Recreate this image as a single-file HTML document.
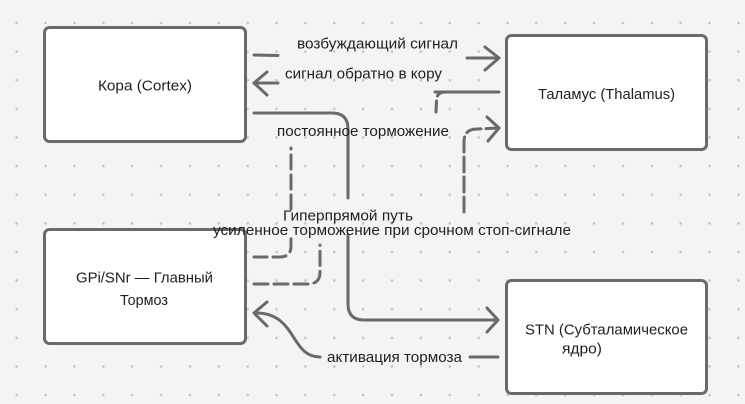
<!DOCTYPE html>
<html>
<head>
<meta charset="utf-8">
<style>
html,body{margin:0;padding:0;background:#f4f4f4;}
svg{display:block;}
text{font-family:"Liberation Sans","Noto Sans CJK SC",sans-serif;fill:#1f1f1f;}
</style>
</head>
<body>
<svg width="745" height="404" viewBox="0 0 745 404" xmlns="http://www.w3.org/2000/svg">
<defs>
<pattern id="dots" x="2.27" y="8.69" width="28.87" height="28.62" patternUnits="userSpaceOnUse">
<circle cx="14.43" cy="14.31" r="1.3" fill="#c6c6c6"/>
</pattern>
</defs>
<rect x="0" y="0" width="745" height="404" fill="#f4f4f4"/>
<rect x="0" y="0" width="745" height="404" fill="url(#dots)"/>

<g fill="none" stroke="#6a6a6a" stroke-width="3" stroke-linecap="round" stroke-linejoin="round">
<!-- возбуждающий сигнал (dashed) -->
<line x1="254" y1="55" x2="278" y2="55.5"/>
<line x1="467" y1="58" x2="499" y2="58"/>
<polyline points="485,47 499,58 485,70"/>

<!-- сигнал обратно в кору -->
<polyline points="267,72 254,83 267,95"/>
<line x1="254" y1="83" x2="278" y2="83"/>
<line x1="435" y1="92" x2="499" y2="92"/>

<!-- Kora -> STN -->
<path d="M254 113 L332 113 Q348 113 348 129 L348 198"/>
<path d="M348 235 L348 304 Q348 320 364 320 L498 320"/>
<polyline points="487,308 498,320 487,332"/>

<!-- постоянное торможение (dashed) -->
<path d="M254 257 L280 257 Q291 257 291 246 L291 235" stroke-dasharray="13 6"/>
<path d="M291 209 L291 148" stroke-dasharray="14 6"/>
<line x1="436" y1="112" x2="436.5" y2="101"/>
<path d="M437.5 96 Q439 92 446 92"/>

<!-- усиленное торможение (dashed) -->
<path d="M254 284 L308 284 Q320 284 320 272 L320 245" stroke-dasharray="14 6"/>
<path d="M464 212 L464 142 Q464 129 477 129 L499 128" stroke-dasharray="15 5"/>
<polyline points="487,117 499,128 488,141"/>

<!-- активация тормоза -->
<line x1="470" y1="357" x2="498" y2="357"/>
<path d="M320 357 C290 357 297 313 256 313"/>
<polyline points="267,302 254,313 267,326"/>
</g>

<!-- Boxes -->
<g fill="#ffffff" stroke="#6a6a6a" stroke-width="3">
<rect x="44.5" y="27.5" width="201" height="114" rx="5"/>
<rect x="506.5" y="35.5" width="200" height="114" rx="5"/>
<rect x="44.5" y="229.5" width="201" height="114" rx="5"/>
<rect x="506.5" y="280.5" width="200" height="113" rx="5"/>
</g>

<!-- Box text -->
<g font-size="15">
<text x="98" y="90.5" textLength="94" lengthAdjust="spacingAndGlyphs">Кора (Cortex)</text>
<text x="538" y="99" textLength="137" lengthAdjust="spacingAndGlyphs">Таламус (Thalamus)</text>
<text x="76" y="282.3" textLength="137" lengthAdjust="spacingAndGlyphs">GPi/SNr — Главный</text>
<text x="120" y="305" textLength="48" lengthAdjust="spacingAndGlyphs">Тормоз</text>
<text x="525" y="334.7" textLength="163" lengthAdjust="spacingAndGlyphs">STN (Субталамическое</text>
<text x="562" y="353.5" textLength="40" lengthAdjust="spacingAndGlyphs">ядро)</text>
</g>

<!-- Edge labels -->
<g font-size="14.5">
<text x="297" y="48.5" textLength="161" lengthAdjust="spacingAndGlyphs">возбуждающий сигнал</text>
<text x="285" y="78.5" textLength="157" lengthAdjust="spacingAndGlyphs">сигнал обратно в кору</text>
<text x="277" y="136" textLength="172" lengthAdjust="spacingAndGlyphs">постоянное торможение</text>
<text x="283" y="220.5" textLength="130" lengthAdjust="spacingAndGlyphs">Гиперпрямой путь</text>
<text x="213" y="235" textLength="358" lengthAdjust="spacingAndGlyphs">усиленное торможение при срочном стоп-сигнале</text>
<text x="327" y="362" textLength="135" lengthAdjust="spacingAndGlyphs">активация тормоза</text>
</g>
</svg>
</body>
</html>
